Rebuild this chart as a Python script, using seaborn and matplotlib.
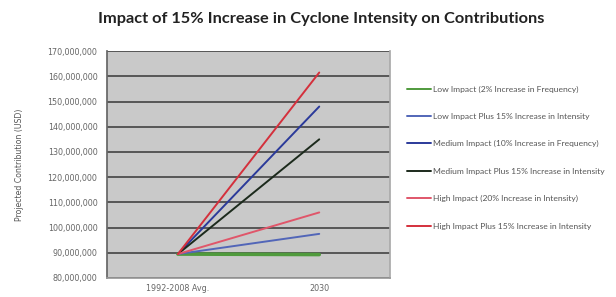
import matplotlib
matplotlib.use("Agg")
import matplotlib.pyplot as plt
import pandas as pd
import seaborn as sns
from matplotlib.ticker import FuncFormatter

# data
periods = ["1992-2008 Avg.", "2030"]
series = [
    "Low Impact (2% Increase in Frequency)",
    "Low Impact Plus 15% Increase in Intensity",
    "Medium Impact (10% Increase in Frequency)",
    "Medium Impact Plus 15% Increase in Intensity",
    "High Impact (20% Increase in Intensity)",
    "High Impact Plus 15% Increase in Intensity",
]
start_vals = [89500000, 89500000, 89500000, 89500000, 89500000, 89500000]
end_vals = [89300000, 97500000, 148000000, 135000000, 106000000, 161500000]
colors = ["#4f9a3c", "#5266b8", "#2b3a9a", "#1c2a1c", "#e0566a", "#d4303c"]
widths = [2.6, 1.4, 1.4, 1.4, 1.4, 1.4]

rows = []
for name, a, b in zip(series, start_vals, end_vals):
    rows.append({"series": name, "pos": 0, "value": a})
    rows.append({"series": name, "pos": 1, "value": b})
df = pd.DataFrame(rows)

sns.set_theme(style="white")
plt.rcParams["font.family"] = ["DejaVu Sans"]

fig = plt.figure(figsize=(6.16, 2.97), dpi=100)
ax = fig.add_axes([0.174, 0.064, 0.459, 0.764])
ax.set_facecolor("#c9c9c9")

sns.lineplot(data=df, x="pos", y="value", hue="series", hue_order=series,
             palette=colors, ax=ax, legend=False, zorder=3)
for line, w in zip(ax.get_lines(), widths):
    line.set_linewidth(w)

ax.set_xlim(-0.5, 1.5)
ax.set_ylim(80000000, 170000000)
ax.set_yticks(range(80000000, 170000001, 10000000))
ax.yaxis.set_major_formatter(FuncFormatter(lambda v, p: f"{int(v):,}"))
ax.set_xticks([0, 1])
ax.set_xticklabels(periods)
ax.set_xticks([0.5], minor=True)
ax.tick_params(axis="x", which="major", length=0, pad=4)
ax.tick_params(axis="x", which="minor", length=2.5, color="#555555")
ax.tick_params(axis="y", length=3, color="#555555", pad=4)
ax.tick_params(axis="both", labelsize=5.8, labelcolor="#666666")
ax.yaxis.grid(True, color="#4d4d4d", linewidth=1.3, zorder=1)
ax.set_axisbelow(True)
ax.spines["top"].set_visible(False)
ax.spines["right"].set_color("#aaaaaa")
ax.spines["left"].set_color("#666666")
ax.spines["bottom"].set_color("#999999")
ax.set_xlabel("")
ax.set_ylabel("Projected Contribution (USD)", fontsize=5.6, color="#555555",
              labelpad=17)

handles = ax.get_lines()[:len(series)]
leg = fig.legend(handles, series, loc="upper left",
                 bbox_to_anchor=(0.648, 0.738), frameon=False,
                 prop={"family": "Lato", "size": 6.1}, labelspacing=2.4,
                 handlelength=2.9, handletextpad=0.2, labelcolor="#555555")
for h in leg.get_lines():
    h.set_linewidth(1.4)

fig.suptitle("Impact of 15% Increase in Cyclone Intensity on Contributions",
             x=0.522, y=0.96, fontsize=11.8, fontweight="bold",
             color="#222222", family="Lato")

fig.savefig("out.png", dpi=100)
